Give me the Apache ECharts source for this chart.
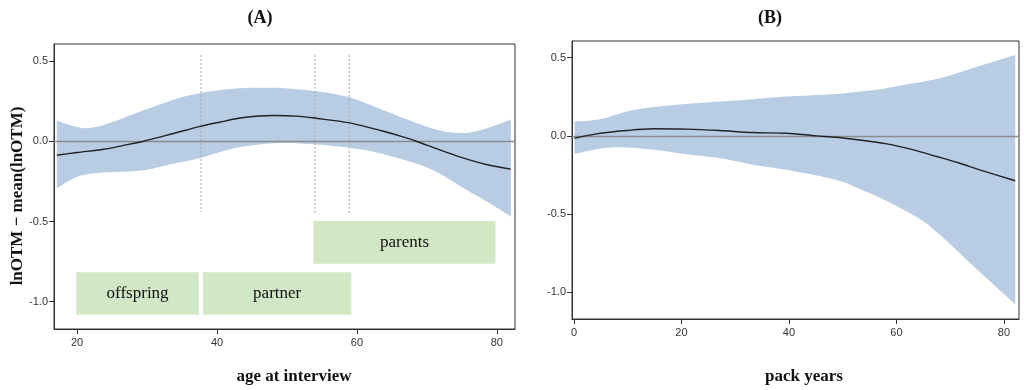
<!DOCTYPE html>
<html><head><meta charset="utf-8">
<script src="https://cdn.jsdelivr.net/npm/echarts@6/dist/echarts.min.js"></script>
<style>html,body{margin:0;padding:0;background:#fff}#c{width:1024px;height:390px}</style>
</head><body><div id="c"></div>
<script>
// Panel A: age at interview
const ageMean = [[17.1,-0.087],[20,-0.07],[23.8,-0.05],[26.5,-0.027],[29.5,0.0],[33.5,0.045],[37.6,0.093],[40.5,0.12],[43.3,0.145],[46,0.157],[48,0.16],[51.9,0.155],[54.2,0.143],[58.8,0.116],[61.5,0.088],[63.8,0.062],[66.6,0.027],[68.5,0.0],[71.5,-0.048],[74.7,-0.097],[78.5,-0.145],[82,-0.174]];
const ageUpper = [[17.1,0.13],[20,0.089],[22.3,0.085],[25.7,0.13],[29.5,0.193],[33.8,0.259],[37.6,0.30],[42.3,0.327],[46.1,0.333],[49.5,0.331],[54.2,0.312],[58.8,0.275],[63.8,0.193],[68.5,0.114],[72.3,0.062],[75.7,0.052],[78.5,0.079],[82,0.135]];
const ageLower = [[17.1,-0.294],[20,-0.222],[23.3,-0.197],[29.5,-0.18],[33.8,-0.139],[37.6,-0.104],[42.3,-0.045],[47.6,-0.014],[51.9,-0.014],[56.6,-0.029],[61.4,-0.056],[66.1,-0.108],[70.9,-0.18],[75.7,-0.304],[79,-0.387],[82,-0.47]];
const ageDividers = [[37.7,0.538,-0.44],[54.0,0.538,-0.45],[58.9,0.538,-0.45]];
const groupBoxes = [[19.9,37.4,-0.816,-1.081,'offspring'],[38.0,59.2,-0.816,-1.081,'partner'],[53.8,79.8,-0.497,-0.764,'parents']];
const ageTicks = [20,40,60,80];
// Panel B: pack years
const packMean = [[0.1,-0.015],[4.2,0.013],[9.8,0.034],[14.7,0.045],[20.9,0.043],[27.1,0.034],[33.3,0.021],[39.5,0.017],[45.1,0.0],[48.9,-0.009],[53.5,-0.028],[58.2,-0.051],[63,-0.088],[67.5,-0.132],[71.5,-0.172],[75.5,-0.217],[82.1,-0.287]];
const packUpper = [[0.1,0.091],[4.8,0.106],[10.4,0.16],[15.9,0.187],[20.9,0.204],[27.1,0.219],[33.3,0.234],[39.5,0.251],[48.9,0.268],[53.2,0.283],[56.3,0.294],[61.3,0.325],[68.1,0.368],[75,0.442],[82.1,0.517]];
const packLower = [[0.1,-0.115],[5.4,-0.079],[9.8,-0.075],[15.9,-0.094],[20.9,-0.117],[27.1,-0.142],[33.3,-0.185],[39.5,-0.217],[48.7,-0.281],[53.2,-0.34],[57.5,-0.405],[61.3,-0.472],[65,-0.545],[68.1,-0.632],[74.9,-0.85],[82.1,-1.075]];
const packTicks = [0,20,40,60,80];
const yTicks = [-1.0,-0.5,0.0,0.5];

const chart = echarts.init(document.getElementById('c'));
const labelFont = {fontFamily:'Liberation Sans, Arial, sans-serif', fontSize:11, color:'#333'};
function xAxis(idx, min, max, ticks){
  return {type:'value', gridIndex:idx, min:min, max:max, splitLine:{show:false},
    axisLine:{show:true, onZero:false, lineStyle:{color:'#333', width:1}},
    axisTick:{show:true, length:5, lineStyle:{color:'#333'}, customValues:ticks},
    axisLabel:Object.assign({customValues:ticks, margin:8, formatter:v=>String(v)}, labelFont)};
}
function yAxis(idx){
  return {type:'value', gridIndex:idx, min:-1.17, max:0.606, splitLine:{show:false},
    axisLine:{show:true, onZero:false, lineStyle:{color:'#333', width:1}},
    axisTick:{show:true, length:5, lineStyle:{color:'#333'}, customValues:yTicks},
    axisLabel:Object.assign({customValues:yTicks, margin:6, formatter:v=>v.toFixed(1)}, labelFont)};
}
// Catmull-Rom spline through pixel points, as path commands (first point assumed current)
function splineCmds(p){
  let s = '';
  const n = p.length;
  for (let i = 0; i < n - 1; i++) {
    const p0 = p[Math.max(i-1,0)], p1 = p[i], p2 = p[i+1], p3 = p[Math.min(i+2,n-1)];
    const c1 = [p1[0] + (p2[0]-p0[0])/6, p1[1] + (p2[1]-p0[1])/6];
    const c2 = [p2[0] - (p3[0]-p1[0])/6, p2[1] - (p3[1]-p1[1])/6];
    s += ' C' + c1[0].toFixed(2) + ' ' + c1[1].toFixed(2) + ' ' + c2[0].toFixed(2) + ' ' + c2[1].toFixed(2) + ' ' + p2[0].toFixed(2) + ' ' + p2[1].toFixed(2);
  }
  return s;
}
function band(idx, upper, lower){
  return {type:'custom', xAxisIndex:idx, yAxisIndex:idx, silent:true, z:1,
    data:[[0]],
    renderItem:(params, api)=>{
      const up = upper.map(p=>api.coord(p));
      const lo = lower.slice().reverse().map(p=>api.coord(p));
      const d = 'M' + up[0][0].toFixed(2) + ' ' + up[0][1].toFixed(2) + splineCmds(up) +
        ' L' + lo[0][0].toFixed(2) + ' ' + lo[0][1].toFixed(2) + splineCmds(lo) + ' Z';
      return {type:'path', shape:{pathData:d}, style:{fill:'#b8cce4'}};
    }};
}
function meanLine(idx, data){
  return {type:'line', xAxisIndex:idx, yAxisIndex:idx, data:data, smooth:0.3, showSymbol:false, silent:true, z:4,
    lineStyle:{color:'#222', width:1.4},
    markLine:{silent:true, symbol:'none', label:{show:false}, z:3,
      lineStyle:{color:'#8a8a8a', width:1.4, type:'solid'}, data:[{yAxis:0}]}};
}
const serif = 'Liberation Serif, Times New Roman, serif';
chart.setOption({
  animation:false,
  backgroundColor:'#fff',
  grid:[
    {left:54, top:44, width:461, height:285, show:true, borderColor:'#333', borderWidth:1},
    {left:572, top:41, width:447, height:278, show:true, borderColor:'#333', borderWidth:1}
  ],
  xAxis:[xAxis(0,16.7,82.6,ageTicks), xAxis(1,-0.37,82.8,packTicks)],
  yAxis:[yAxis(0), yAxis(1)],
  series:[
    band(0, ageUpper, ageLower),
    meanLine(0, ageMean),
    {type:'custom', xAxisIndex:0, yAxisIndex:0, silent:true, z:2, data:ageDividers,
      renderItem:(params, api)=>{
        const a = api.coord([api.value(0), api.value(1)]);
        const b = api.coord([api.value(0), api.value(2)]);
        return {type:'line', shape:{x1:a[0],y1:a[1],x2:b[0],y2:b[1]},
          style:{stroke:'#a8a8a8', lineWidth:1, lineDash:[2,2]}};
      }},
    {type:'custom', xAxisIndex:0, yAxisIndex:0, silent:true, z:2, data:groupBoxes,
      renderItem:(params, api)=>{
        const a = api.coord([api.value(0), api.value(2)]);
        const b = api.coord([api.value(1), api.value(3)]);
        return {type:'group', children:[
          {type:'rect', shape:{x:a[0], y:a[1], width:b[0]-a[0], height:b[1]-a[1]}, style:{fill:'#d1e7c6'}},
          {type:'text', style:{x:(a[0]+b[0])/2, y:(a[1]+b[1])/2, text:groupBoxes[params.dataIndex][4],
            font:'17px '+serif, fill:'#111', align:'center', verticalAlign:'middle'}}
        ]};
      }},
    band(1, packUpper, packLower),
    meanLine(1, packMean)
  ],
  graphic:[
    {type:'text', style:{x:260, y:18, text:'(A)', font:'bold 18px '+serif, fill:'#111', align:'center', verticalAlign:'middle'}},
    {type:'text', style:{x:770, y:18, text:'(B)', font:'bold 18px '+serif, fill:'#111', align:'center', verticalAlign:'middle'}},
    {type:'text', style:{x:294, y:377, text:'age at interview', font:'bold 17px '+serif, fill:'#111', align:'center', verticalAlign:'middle'}},
    {type:'text', style:{x:804, y:377, text:'pack years', font:'bold 17px '+serif, fill:'#111', align:'center', verticalAlign:'middle'}},
    {type:'text', x:18, y:196, rotation:Math.PI/2, style:{x:0, y:0, text:'lnOTM − mean(lnOTM)', font:'bold 17px '+serif, fill:'#111', align:'center', verticalAlign:'middle'}}
  ]
});
</script></body></html>
